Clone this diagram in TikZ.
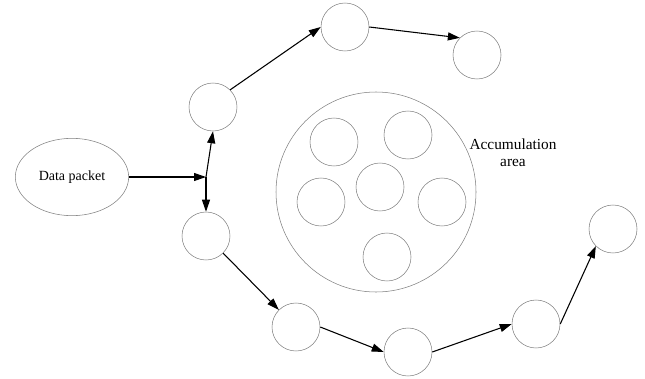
\documentclass[tikz,border=0pt]{standalone}
\usepackage{fontspec}
\setmainfont{Liberation Serif}
\usetikzlibrary{arrows.meta, shapes.geometric}

\tikzset{
	hop/.style = {draw = gray, circle, minimum size = 36pt, inner sep = 0pt},
	link/.style = {-{Triangle[length = 9pt, width = 6pt]}, thick}
}

\begin{document}
\begin{tikzpicture}[x = 0.75pt, y = -0.75pt]
			\useasboundingbox (0,0) rectangle (645,378);
			\node (packet) [draw = gray, ellipse, minimum width = 85pt, minimum height = 58pt, inner sep = 0pt] at (72,177){\fontsize{10.5}{12}\selectfont Data packet};
			\coordinate (j) at (206,177);
			
			\node (c1) [hop] at (213,107){};
			\node (c2) [hop] at (345,27){};
			\node (c3) [hop] at (477,55){};
			\node (c4) [hop] at (206,236){};
			\node (c5) [hop] at (296,327){};
			\node (c6) [hop] at (408,352){};
			\node (c7) [hop] at (536,324){};
			\node (c8) [hop] at (613,229){};
			
			\node (area) [draw = gray, circle, minimum size = 150pt, inner sep = 0pt] at (376,192){};
			\node (a1) [hop] at (334,142){};
			\node (a2) [hop] at (408,135){};
			\node (a3) [hop] at (380,187){};
			\node (a4) [hop] at (321,202){};
			\node (a5) [hop] at (442,202){};
			\node (a6) [hop] at (387,257){};
			\node (label) [align = center, inner sep = 0pt, font = \fontsize{11.5}{13}\selectfont] at (513,153){Accumulation\\area};
			
			\draw[link] (packet.east)--(j);
			\draw[link] (j)--(c1.south);
			\draw[link] (j)--(c4.north);
			\draw[link] (c1.north east)--(c2.west);
			\draw[link] (c2.east)--(c3.north west);
			\draw[link] (c4.south east)--(c5.north west);
			\draw[link] (c5.east)--(c6.west);
			\draw[link] (c6.east)--(c7.west);
			\draw[link] (c7.east)--(c8.south west);
			
		\end{tikzpicture}
\end{document}
